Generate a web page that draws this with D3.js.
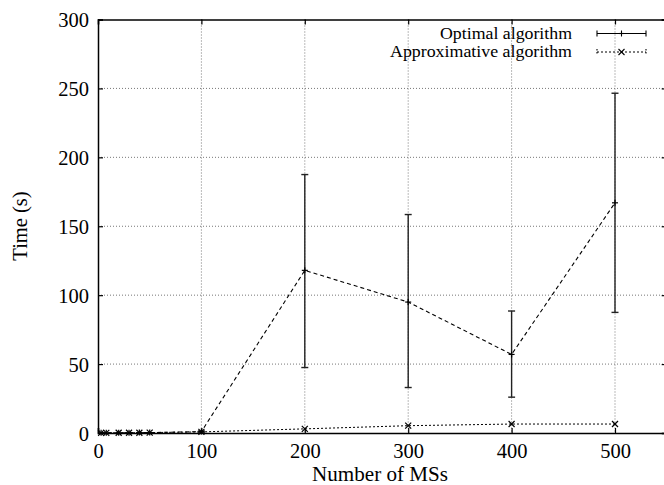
<!DOCTYPE html>
<html>
<head>
<meta charset="utf-8">
<script src="https://cdn.jsdelivr.net/npm/d3@7"></script>
<style>
  body { margin: 0; background: #fff; }
  svg { display: block; }
  text { font-family: "Liberation Serif", "DejaVu Serif", serif; fill: #000; }
</style>
</head>
<body>
<svg id="chart" width="664" height="485"></svg>
<script>
// ---- data ----
const nodes = [3, 8, 20, 30, 40, 50, 100, 200, 300, 400, 500];
const optimalMean = [0.1, 0.1, 0.2, 0.2, 0.3, 0.3, 1, 118, 95, 57, 167];
const optimalLow  = [0.1, 0.1, 0.2, 0.2, 0.3, 0.3, 0.5, 47.5, 33, 26, 87.5];
const optimalHigh = [0.1, 0.1, 0.2, 0.2, 0.3, 0.3, 1.5, 187.5, 158.5, 88.5, 246.5];
const approxMean  = [0.1, 0.1, 0.2, 0.2, 0.2, 0.3, 0.8, 3, 5.3, 6.5, 6.5];
const xTicks = [0, 100, 200, 300, 400, 500];
const yTicks = [0, 50, 100, 150, 200, 250, 300];
const seriesNames = ["Optimal algorithm", "Approximative algorithm"];

(function () {
// ---- layout ----
const svg = d3.select("#chart");
const pLeft = 98, pTop = 19.5, pBottom = 433;
const x = d3.scaleLinear().domain([0, 550]).range([pLeft, 666.7]);
const y = d3.scaleLinear().domain([0, 300]).range([pBottom, pTop]);
const pRight = x(550);

// grid
const grid = svg.append("g");
grid.selectAll(".gx").data(xTicks.filter(d => d > 0)).enter().append("line")
  .attr("x1", d => x(d)).attr("x2", d => x(d)).attr("y1", pTop).attr("y2", pBottom)
  .attr("stroke", "#777").attr("stroke-width", 1).attr("stroke-dasharray", "1,2");
grid.selectAll(".gy").data(yTicks.filter(d => d > 0 && d < 300)).enter().append("line")
  .attr("x1", pLeft).attr("x2", pRight).attr("y1", d => y(d)).attr("y2", d => y(d))
  .attr("stroke", "#777").attr("stroke-width", 1).attr("stroke-dasharray", "1,2");

// axes
const tickLen = 5;
const axB = svg.append("g").attr("transform", `translate(0,${pBottom})`)
  .call(d3.axisBottom(x).tickValues(xTicks).tickSize(-tickLen).tickPadding(10).tickFormat(d3.format("d")));
const axT = svg.append("g").attr("transform", `translate(0,${pTop})`)
  .call(d3.axisTop(x).tickValues(xTicks).tickSize(-tickLen).tickFormat(""));
const axL = svg.append("g").attr("transform", `translate(${pLeft},0)`)
  .call(d3.axisLeft(y).tickValues(yTicks).tickSize(-tickLen).tickPadding(9).tickFormat(d3.format("d")));
const axR = svg.append("g").attr("transform", `translate(${pRight},0)`)
  .call(d3.axisRight(y).tickValues(yTicks).tickSize(-tickLen).tickFormat(""));
[axB, axT, axL, axR].forEach(a => {
  a.select(".domain").attr("stroke", "#000").attr("stroke-width", 1.5);
  a.selectAll(".tick line").attr("stroke", "#000").attr("stroke-width", 1.2);
  a.selectAll("text").style("font-size", "20.5px").style("font-family", "Liberation Serif, serif").attr("fill", "#000");
});
axB.selectAll("text").attr("dy", "0.71em");
axL.selectAll("text").attr("dy", "0.35em");

// axis titles
svg.append("text").attr("x", 380).attr("y", 481).attr("text-anchor", "middle")
  .style("font-size", "20.5px").attr("textLength", 136).attr("lengthAdjust", "spacingAndGlyphs")
  .text("Number of MSs");
svg.append("text").attr("transform", `translate(27,226) rotate(-90)`).attr("text-anchor", "middle")
  .style("font-size", "20.5px").text("Time (s)");

const idx = d3.range(nodes.length);

// lines
const lineOpt = d3.line().x(i => x(nodes[i])).y(i => y(optimalMean[i]));
const lineApp = d3.line().x(i => x(nodes[i])).y(i => y(approxMean[i]));
svg.append("path").attr("d", lineApp(idx)).attr("fill", "none").attr("stroke", "#000")
  .attr("stroke-width", 1).attr("stroke-dasharray", "2,2");
svg.append("path").attr("d", lineOpt(idx)).attr("fill", "none").attr("stroke", "#000")
  .attr("stroke-width", 1.1).attr("stroke-dasharray", "4,3");

// error bars (optimal)
const cap = 3.5;
const eb = svg.append("g").attr("stroke", "#222").attr("stroke-width", 1.4);
idx.forEach(i => {
  if (optimalHigh[i] - optimalLow[i] < 0.5) return;
  eb.append("line").attr("x1", x(nodes[i])).attr("x2", x(nodes[i]))
    .attr("y1", y(optimalLow[i])).attr("y2", y(optimalHigh[i]));
  eb.append("line").attr("x1", x(nodes[i]) - cap).attr("x2", x(nodes[i]) + cap)
    .attr("y1", y(optimalLow[i])).attr("y2", y(optimalLow[i]));
  eb.append("line").attr("x1", x(nodes[i]) - cap).attr("x2", x(nodes[i]) + cap)
    .attr("y1", y(optimalHigh[i])).attr("y2", y(optimalHigh[i]));
});

// markers
const m = 3;
const mk = svg.append("g").attr("stroke", "#000").attr("stroke-width", 1.2);
idx.forEach(i => {
  const px = x(nodes[i]), py = y(optimalMean[i]);
  mk.append("line").attr("x1", px - m).attr("x2", px + m).attr("y1", py).attr("y2", py);
  mk.append("line").attr("x1", px).attr("x2", px).attr("y1", py - m).attr("y2", py + m);
  const qx = x(nodes[i]), qy = y(approxMean[i]);
  mk.append("line").attr("x1", qx - m).attr("x2", qx + m).attr("y1", qy - m).attr("y2", qy + m);
  mk.append("line").attr("x1", qx - m).attr("x2", qx + m).attr("y1", qy + m).attr("y2", qy - m);
});

// legend
const lg = svg.append("g");
const rows = [38.5, 57];
const widths = [132, 182];
const sx1 = 597, sx2 = 646, sxm = 621.5;
seriesNames.forEach((name, k) => {
  lg.append("text").attr("x", 572).attr("y", rows[k]).attr("text-anchor", "end")
    .style("font-size", "16.2px").attr("textLength", widths[k]).attr("lengthAdjust", "spacingAndGlyphs")
    .text(name);
  const ly = rows[k] - 5;
  const g = lg.append("g").attr("stroke", "#000").attr("stroke-width", 1.1);
  g.append("line").attr("x1", sx1).attr("x2", sx2).attr("y1", ly).attr("y2", ly)
    .attr("stroke-dasharray", k === 0 ? null : "2,2");
  [sx1, sx2].forEach(ex => g.append("line").attr("x1", ex).attr("x2", ex)
    .attr("y1", ly - 3).attr("y2", ly + 3).attr("stroke-dasharray", k === 0 ? null : "1.5,1.5"));
  if (k === 0) {
    g.append("line").attr("x1", sxm - m).attr("x2", sxm + m).attr("y1", ly).attr("y2", ly);
    g.append("line").attr("x1", sxm).attr("x2", sxm).attr("y1", ly - m).attr("y2", ly + m);
  } else {
    g.append("line").attr("x1", sxm - m).attr("x2", sxm + m).attr("y1", ly - m).attr("y2", ly + m);
    g.append("line").attr("x1", sxm - m).attr("x2", sxm + m).attr("y1", ly + m).attr("y2", ly - m);
  }
});
})();
</script>
</body>
</html>
